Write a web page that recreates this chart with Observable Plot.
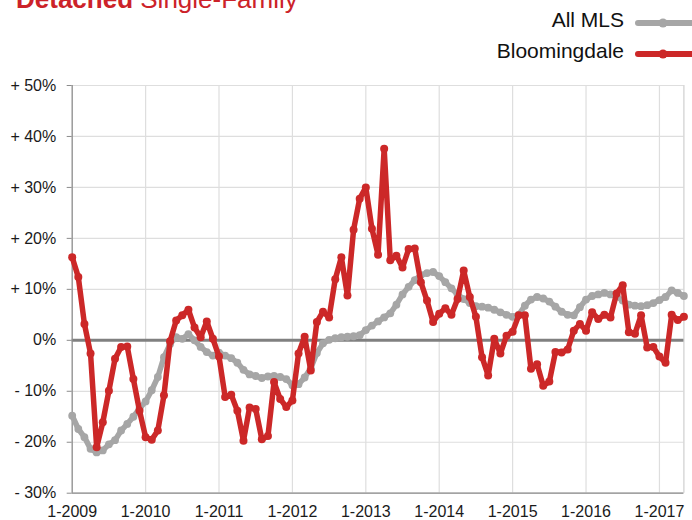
<!DOCTYPE html>
<html><head><meta charset="utf-8">
<script src="https://cdn.jsdelivr.net/npm/d3@7"></script>
<script src="https://cdn.jsdelivr.net/npm/@observablehq/plot@0.6"></script>
<style>
body{margin:0;background:#fff;font-family:"Liberation Sans",Arial,Helvetica,sans-serif;}
#wrap{position:relative;width:692px;height:520px;overflow:hidden;background:#fff;}
#head{position:relative;width:692px;height:70px;overflow:hidden;}
.title{position:absolute;left:16px;top:-14.5px;font-size:26px;line-height:26px;color:#cc2229;white-space:nowrap;}
.title b{font-weight:bold}
.leg{position:absolute;right:68px;font-size:21px;line-height:21px;color:#111;white-space:nowrap}
#sw{position:absolute;left:0;top:0}
</style></head><body>
<div id="wrap">
  <div id="head">
    <div class="title"><b>Detached</b> Single-Family</div>
    <div class="leg" style="top:8.9px">All MLS</div>
    <div class="leg" style="top:40.2px">Bloomingdale</div>
    <svg id="sw" width="692" height="70"></svg>
  </div>
  <div id="chart"></div>
</div>
<script>
// Months: Jan 2009 .. May 2017 (index 0..100)
const tickLabels = ["1-2009","1-2010","1-2011","1-2012","1-2013","1-2014","1-2015","1-2016","1-2017"];
const yTicks = [-30,-20,-10,0,10,20,30,40,50];
const seriesNames = ["All MLS","Bloomingdale"];
const seriesColors = ["#a6a6a6","#cc2828"];

const allMLS = [
 -14.8,-17.4,-19.0,-21.3,-22.0,-21.6,-20.4,-19.6,-17.7,-16.4,-15.0,-13.4,
 -12.0,-9.8,-7.2,-3.3,-0.7,0.6,0.3,1.2,0.0,-1.3,-2.3,-3.0,
 -2.4,-3.0,-3.5,-4.4,-5.8,-6.7,-7.0,-7.4,-7.1,-7.0,-7.2,-7.6,
 -8.8,-8.6,-7.3,-5.5,-2.5,-0.6,0.1,0.4,0.6,0.7,0.8,1.0,
 2.0,2.9,3.7,4.5,5.3,7.0,9.0,10.5,11.8,12.8,13.2,13.4,
 12.6,11.4,10.2,9.0,8.1,7.3,6.7,6.6,6.4,6.0,5.5,5.0,
 4.6,5.0,6.8,8.0,8.5,8.2,7.6,6.6,5.6,5.0,4.9,6.5,
 8.0,8.7,9.0,9.3,9.0,8.6,7.8,7.0,6.8,6.7,6.9,7.3,
 7.9,8.5,9.8,9.3,8.7
];
const bloomingdale = [
 16.3,12.4,3.2,-2.6,-21.0,-16.1,-9.9,-3.6,-1.3,-1.2,-7.6,-13.8,
 -19.0,-19.5,-17.7,-10.8,-0.2,3.9,4.9,6.0,2.5,0.6,3.7,0.3,
 -3.2,-11.1,-10.7,-13.8,-19.7,-13.2,-13.5,-19.4,-18.8,-8.2,-11.5,-13.1,
 -11.8,-2.6,0.7,-5.9,3.6,5.6,4.5,12.0,16.3,8.8,21.7,27.8,
 30.0,21.9,16.8,37.6,15.7,16.6,14.3,17.9,18.0,11.4,7.8,3.6,
 5.2,6.3,5.0,8.1,13.7,8.5,4.6,-3.3,-6.9,0.3,-2.6,0.9,
 1.7,4.9,4.9,-5.6,-4.7,-8.9,-8.1,-2.3,-2.4,-1.8,1.9,3.2,
 1.9,5.5,4.2,5.0,4.5,9.2,10.8,1.6,1.3,4.9,-1.4,-1.3,
 -3.2,-4.4,5.0,4.0,4.6
];

const rows = allMLS.map((v, i) => ({i, mls: v, bl: bloomingdale[i]}));
const tickIdx = tickLabels.map((_, k) => k * 12);
const fmtY = d => d > 0 ? "+ " + d + "%" : d < 0 ? "- " + (-d) + "%" : "0%";
const font = '"Liberation Sans", Arial, Helvetica, sans-serif';

const chart = Plot.plot({
  width: 692, height: 450,
  marginTop: 15, marginBottom: 27.3, marginLeft: 71.7, marginRight: 8.6,
  style: {fontFamily: font, fontSize: "16px", color: "#222", background: "white", overflow: "visible"},
  x: {type: "linear", domain: [0, rows.length - 1]},
  y: {type: "linear", domain: [-30, 50]},
  marks: [
    Plot.ruleY(yTicks, {stroke: "#dedede", strokeWidth: 1.2}),
    Plot.ruleX(tickIdx, {stroke: "#dedede", strokeWidth: 1.2}),
    Plot.ruleX([rows.length - 1], {stroke: "#cfcfcf", strokeWidth: 1.2}),
    Plot.ruleY([0], {stroke: "#808080", strokeWidth: 3}),
    Plot.ruleX([0], {stroke: "#8c8c8c", strokeWidth: 1.2}),
    Plot.ruleY([-30], {stroke: "#8c8c8c", strokeWidth: 1.2}),
    Plot.axisY({ticks: yTicks, tickFormat: fmtY, tickSize: 5, tickPadding: 11, stroke: "#8c8c8c", fill: "#1a1a1a", fontSize: 16, label: null}),
    Plot.axisX({ticks: tickIdx, tickFormat: d => tickLabels[d / 12], tickSize: 0, tickPadding: 12.5, fill: "#1a1a1a", fontSize: 16, label: null}),
    Plot.line(rows, {x: "i", y: "mls", stroke: seriesColors[0], strokeWidth: 5.5, strokeLinejoin: "round"}),
    Plot.dot(rows, {x: "i", y: "mls", fill: seriesColors[0], r: 3.9}),
    Plot.line(rows, {x: "i", y: "bl", stroke: seriesColors[1], strokeWidth: 5.5, strokeLinejoin: "round"}),
    Plot.dot(rows, {x: "i", y: "bl", fill: seriesColors[1], r: 4})
  ]
});
document.getElementById("chart").appendChild(chart);

// legend swatches
const sw = d3.select("#sw");
[[23, seriesColors[0]], [54, seriesColors[1]]].forEach(([yy, c]) => {
  sw.append("line").attr("x1", 638).attr("x2", 700).attr("y1", yy).attr("y2", yy)
    .attr("stroke", c).attr("stroke-width", 6).attr("stroke-linecap", "round");
  sw.append("circle").attr("cx", 663).attr("cy", yy).attr("r", 4.5).attr("fill", c);
});
</script>
</body></html>
